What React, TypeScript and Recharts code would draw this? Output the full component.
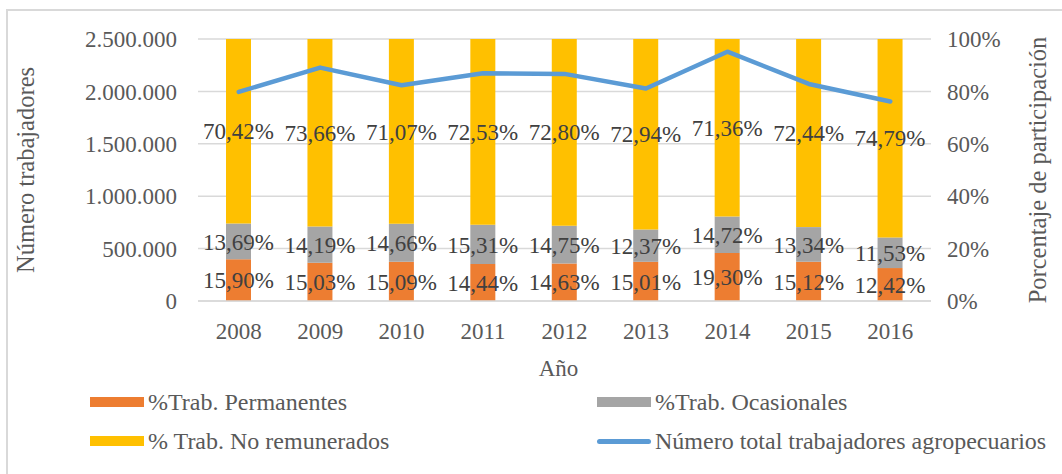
import React from 'react';
import {
  ComposedChart,
  Bar,
  Line,
  CartesianGrid,
  Legend,
  LabelList,
  XAxis,
  YAxis,
} from 'recharts';

const years = ['2008', '2009', '2010', '2011', '2012', '2013', '2014', '2015', '2016'];
const permanentes = [15.9, 15.03, 15.09, 14.44, 14.63, 15.01, 19.3, 15.12, 12.42];
const ocasionales = [13.69, 14.19, 14.66, 15.31, 14.75, 12.37, 14.72, 13.34, 11.53];
const noRemunerados = [70.42, 73.66, 71.07, 72.53, 72.8, 72.94, 71.36, 72.44, 74.79];
const totalTrabajadores = [1995000, 2227000, 2059000, 2173000, 2167000, 2027000, 2379000, 2071000, 1903000];

const leftTicks = [0, 500000, 1000000, 1500000, 2000000, 2500000];
const rightTicks = [0, 20, 40, 60, 80, 100];

const colors = {
  permanentes: '#ED7D31',
  ocasionales: '#A5A5A5',
  noRemunerados: '#FFC000',
  total: '#5B9BD5',
  grid: '#D9D9D9',
  axisText: '#595959',
  labelText: '#404040',
};

const FONT = "'Liberation Serif', 'Times New Roman', serif";

// 100% stacked: each bar is normalised, labels keep the original value
const data = years.map((year, i) => {
  const sum = permanentes[i] + ocasionales[i] + noRemunerados[i];
  return {
    year,
    perm: (permanentes[i] / sum) * 100,
    ocas: (ocasionales[i] / sum) * 100,
    noRem: (noRemunerados[i] / sum) * 100,
    permRaw: permanentes[i],
    ocasRaw: ocasionales[i],
    noRemRaw: noRemunerados[i],
    total: totalTrabajadores[i],
  };
});

const fmtPct = (v: any) => `${Number(v).toFixed(2).replace('.', ',')}%`;
const fmtThousands = (v: number) => String(v).replace(/\B(?=(\d{3})+(?!\d))/g, '.');

const legendItems = [
  { label: '%Trab. Permanentes', color: colors.permanentes, type: 'rect', x: 90, y: 26 },
  { label: '%Trab. Ocasionales', color: colors.ocasionales, type: 'rect', x: 597, y: 26 },
  { label: '% Trab. No remunerados', color: colors.noRemunerados, type: 'rect', x: 90, y: 65 },
  { label: 'Número total trabajadores agropecuarios', color: colors.total, type: 'line', x: 597, y: 65 },
];

const renderLegend = () => (
  <div style={{ position: 'relative', width: 1062, height: 98 }}>
    {legendItems.map((item) => (
      <div
        key={item.label}
        style={{
          position: 'absolute',
          left: item.x,
          top: item.y - 14,
          height: 28,
          display: 'flex',
          alignItems: 'center',
          whiteSpace: 'nowrap',
        }}
      >
        {item.type === 'rect' ? (
          <span style={{ display: 'inline-block', width: 54, height: 10, background: item.color }} />
        ) : (
          <span style={{ display: 'inline-block', width: 54, height: 5, borderRadius: 3, background: item.color }} />
        )}
        <span
          style={{
            marginLeft: 4,
            fontFamily: FONT,
            fontSize: 24,
            color: colors.axisText,
          }}
        >
          {item.label}
        </span>
      </div>
    ))}
  </div>
);

const tickStyle = { fontFamily: FONT, fontSize: 23, fill: colors.axisText };
const titleStyle = { fontFamily: FONT, fontSize: 24.5, fill: colors.axisText, textAnchor: 'middle' };
const barLabelStyle = { fontFamily: FONT, fontSize: 23, fill: colors.labelText };

export default function App() {
  return (
    <div
      style={{
        position: 'absolute',
        left: 0,
        top: 0,
        width: 1062,
        height: 474,
        overflow: 'hidden',
        background: '#fff',
      }}
    >
      <div
        style={{
          position: 'absolute',
          left: 6,
          top: 9,
          width: 1100,
          height: 500,
          border: `2px solid ${colors.grid}`,
        }}
      />
      <ComposedChart
        width={1062}
        height={474}
        data={data}
        margin={{ top: 39, right: 0, bottom: 0, left: 0 }}
        style={{ fontFamily: FONT }}
      >
        <CartesianGrid vertical={false} stroke={colors.grid} strokeWidth={1.5} yAxisId="left" />
        <XAxis
          dataKey="year"
          height={75}
          axisLine={{ stroke: colors.grid, strokeWidth: 1.5 }}
          tickLine={false}
          tickSize={0}
          tickMargin={22}
          tick={tickStyle}
          interval={0}
          label={{
            value: 'Año',
            position: 'insideBottom',
            offset: 0,
            dx: -6,
            style: { ...titleStyle, fontSize: 23 },
          }}
        />
        <YAxis
          yAxisId="left"
          width={198}
          domain={[0, 2500000]}
          ticks={leftTicks}
          tickFormatter={fmtThousands}
          axisLine={false}
          tickLine={false}
          tickSize={0}
          tickMargin={21}
          tick={tickStyle}
          label={{
            value: 'Número trabajadores',
            angle: -90,
            position: 'center',
            dx: -74,
            style: titleStyle,
          }}
        />
        <YAxis
          yAxisId="right"
          orientation="right"
          width={131}
          domain={[0, 100]}
          ticks={rightTicks}
          tickFormatter={(v: number) => `${v}%`}
          axisLine={false}
          tickLine={false}
          tickSize={0}
          tickMargin={16}
          tick={{ ...tickStyle, textAnchor: 'start' }}
          label={{
            value: 'Porcentaje de participación',
            angle: -90,
            position: 'center',
            dx: 41,
            style: titleStyle,
          }}
        />
        <Legend verticalAlign="bottom" content={renderLegend} wrapperStyle={{ height: 98, left: 0 }} />
        <Bar yAxisId="right" dataKey="perm" stackId="a" fill={colors.permanentes} barSize={25} isAnimationActive={false}>
          <LabelList dataKey="permRaw" position="center" formatter={fmtPct} style={barLabelStyle} />
        </Bar>
        <Bar yAxisId="right" dataKey="ocas" stackId="a" fill={colors.ocasionales} barSize={25} isAnimationActive={false}>
          <LabelList dataKey="ocasRaw" position="center" formatter={fmtPct} style={barLabelStyle} />
        </Bar>
        <Bar yAxisId="right" dataKey="noRem" stackId="a" fill={colors.noRemunerados} barSize={25} isAnimationActive={false}>
          <LabelList dataKey="noRemRaw" position="center" formatter={fmtPct} style={barLabelStyle} />
        </Bar>
        <Line
          yAxisId="left"
          dataKey="total"
          stroke={colors.total}
          strokeWidth={4.5}
          strokeLinecap="round"
          strokeLinejoin="round"
          dot={false}
          activeDot={false}
          isAnimationActive={false}
        />
      </ComposedChart>
    </div>
  );
}
